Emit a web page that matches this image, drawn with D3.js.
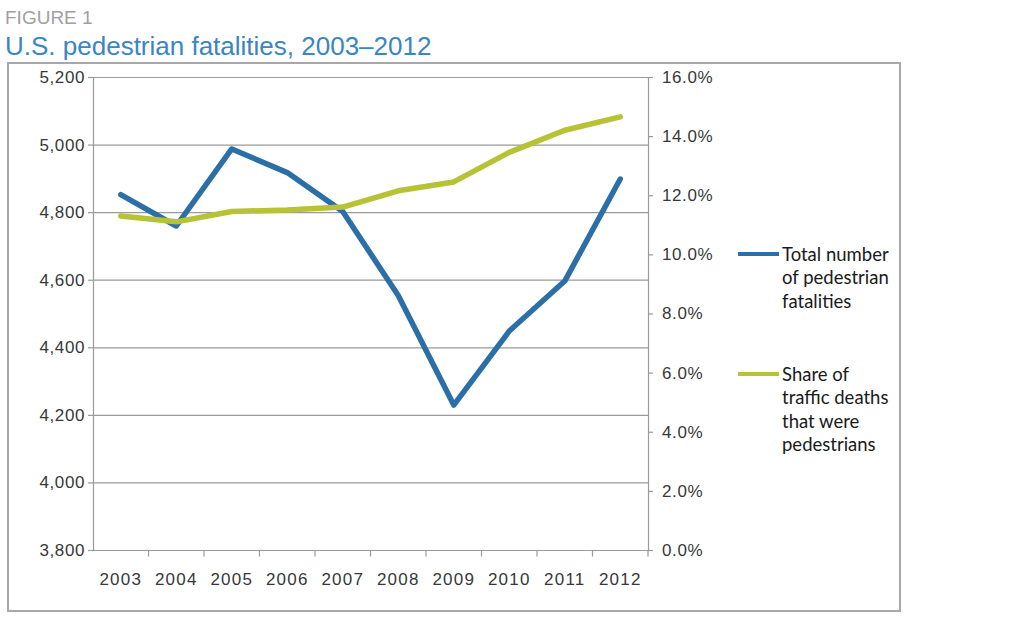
<!DOCTYPE html>
<html>
<head>
<meta charset="utf-8">
<script src="https://cdn.jsdelivr.net/npm/d3@7"></script>
<style>
  body { margin: 0; background: #fff; }
</style>
</head>
<body>
<svg id="chart" width="1036" height="618"></svg>
<script>
// chart data
const years = ["2003", "2004", "2005", "2006", "2007", "2008", "2009", "2010", "2011", "2012"];
const fatalities = [4852, 4759, 4987, 4917, 4802, 4553, 4229, 4448, 4596, 4898];
const sharePct = [11.3, 11.1, 11.45, 11.5, 11.6, 12.15, 12.45, 13.45, 14.2, 14.65];
const leftTicks = [3800, 4000, 4200, 4400, 4600, 4800, 5000, 5200];
const rightTicks = [0, 2, 4, 6, 8, 10, 12, 14, 16];
const legendItems = [
	{ lines: ["Total number", "of pedestrian", "fatalities"], color: "#2b6fa6" },
	{ lines: ["Share of", "traffic deaths", "that were", "pedestrians"], color: "#b5c335" }
];

const svg = d3.select("#chart");
const plot = { left: 93, right: 648, top: 77, bottom: 550 };
const axisColor = "#9a9a9a";
const tickFont = "'Liberation Sans', Arial, sans-serif";

// title
svg.append("text").attr("x", 5).attr("y", 24)
	.style("font-family", tickFont)
	.attr("font-size", 19).attr("fill", "#a0a0a0").text("FIGURE 1");
svg.append("text").attr("x", 5).attr("y", 55)
	.style("font-family", tickFont)
	.attr("font-size", 26).attr("fill", "#3a85c3").text("U.S. pedestrian fatalities, 2003\u20132012");

// outer frame
svg.append("rect").attr("x", 8).attr("y", 63).attr("width", 892).attr("height", 548)
	.attr("fill", "none").attr("stroke", "#a8a8a8").attr("stroke-width", 2);

const x = d3.scaleBand().domain(years).range([plot.left, plot.right]);
const yLeft = d3.scaleLinear().domain([3800, 5200]).range([plot.bottom, plot.top]);
const yRight = d3.scaleLinear().domain([0, 16]).range([plot.bottom, plot.top]);

// gridlines
svg.append("g").selectAll("line").data(leftTicks.slice(1)).enter().append("line")
	.attr("x1", plot.left).attr("x2", plot.right)
	.attr("y1", d => yLeft(d) + 0.5).attr("y2", d => yLeft(d) + 0.5)
	.attr("stroke", axisColor).attr("stroke-width", 1.2);

const fontTick = g => {
	g.select(".domain").attr("stroke", axisColor).attr("stroke-width", 1.2);
	g.selectAll(".tick line").attr("stroke", axisColor).attr("stroke-width", 1.2);
	g.selectAll("text")
		.style("font-family", tickFont).style("font-size", "17px")
		.style("letter-spacing", "0.6px").attr("fill", "#383838");
};

svg.append("g").attr("transform", `translate(${plot.left},0)`)
	.call(d3.axisLeft(yLeft).tickValues(leftTicks).tickFormat(d3.format(",")).tickSize(5).tickSizeOuter(0).tickPadding(3))
	.call(fontTick);

svg.append("g").attr("transform", `translate(${plot.right},0)`)
	.call(d3.axisRight(yRight).tickValues(rightTicks).tickFormat(d => d.toFixed(1) + "%").tickSize(5).tickSizeOuter(0).tickPadding(9))
	.call(fontTick);

// x axis: ticks sit on band boundaries
const xAxis = svg.append("g").attr("transform", `translate(0,${plot.bottom + 0.5})`)
	.call(d3.axisBottom(x).tickSize(0).tickPadding(22))
	.call(fontTick);
xAxis.selectAll(".tick text").style("letter-spacing", "1.2px");
xAxis.select(".domain").remove();
xAxis.append("line").attr("x1", plot.left).attr("x2", plot.right)
	.attr("stroke", axisColor).attr("stroke-width", 1.2);
xAxis.selectAll(".bound").data(years.slice(1).concat(["end"])).enter().append("line")
	.attr("x1", (d, i) => plot.left + x.step() * (i + 1))
	.attr("x2", (d, i) => plot.left + x.step() * (i + 1))
	.attr("y1", 0).attr("y2", 6)
	.attr("stroke", axisColor).attr("stroke-width", 1.2);

// lines
const cx = d => x(d) + x.bandwidth() / 2;
const shareLine = d3.line().x((d, i) => cx(years[i])).y(d => yRight(d));
const fatalLine = d3.line().x((d, i) => cx(years[i])).y(d => yLeft(d));

svg.append("path").datum(fatalities).attr("d", fatalLine)
	.attr("fill", "none").attr("stroke", legendItems[0].color)
	.attr("stroke-width", 5.5).attr("stroke-linejoin", "round").attr("stroke-linecap", "round");
svg.append("path").datum(sharePct).attr("d", shareLine)
	.attr("fill", "none").attr("stroke", legendItems[1].color)
	.attr("stroke-width", 5.5).attr("stroke-linejoin", "round").attr("stroke-linecap", "round");

// legend
const legendY = [254, 374];
legendItems.forEach((item, k) => {
	const g = svg.append("g").attr("transform", `translate(738,${legendY[k]})`);
	g.append("line").attr("x1", 0).attr("x2", 41).attr("y1", 0).attr("y2", 0)
		.attr("stroke", item.color).attr("stroke-width", 4);
	g.append("g").selectAll("text").data(item.lines).enter().append("text")
		.attr("x", 44).attr("y", (d, i) => 7 + i * 23.3)
		.style("font-family", "Lato, 'Open Sans', sans-serif")
		.style("font-size", "18.5px").attr("fill", "#1a1a1a")
		.text(d => d);
});
</script>
</body>
</html>
